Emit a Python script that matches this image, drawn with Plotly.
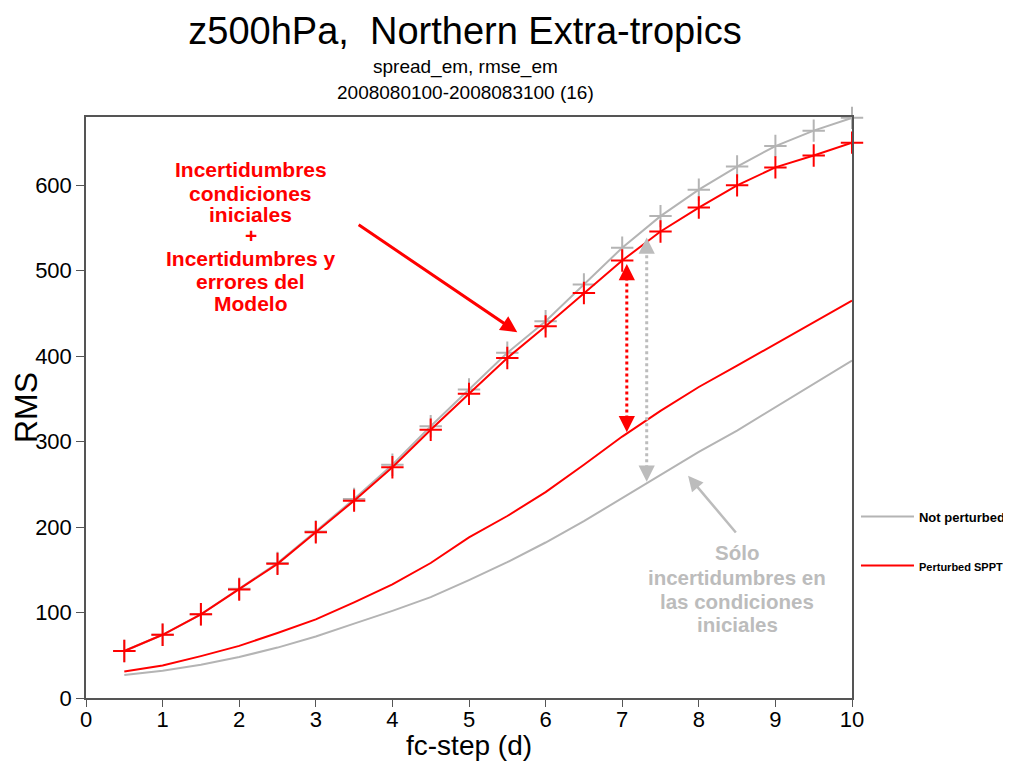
import plotly.graph_objects as go

# ---------------- data ----------------
steps = [0.5, 1, 1.5, 2, 2.5, 3, 3.5, 4, 4.5, 5, 5.5, 6, 6.5, 7, 7.5, 8, 8.5, 9, 9.5, 10]
rmse_not = [55, 74, 98, 128, 158, 195, 233, 273, 318, 361, 404, 441, 484, 527, 564, 595, 622, 646, 664, 679]
rmse_sppt = [55, 74, 98, 127, 157, 194, 231, 270, 314, 356, 398, 435, 474, 512, 546, 574, 600, 621, 635, 650]
spread_not = [27, 32, 39, 48, 59, 72, 87, 102, 118, 138, 159, 182, 207, 234, 260, 288, 313, 340, 367, 395]
spread_sppt = [31, 38, 49, 61, 76, 92, 112, 133, 158, 188, 213, 241, 273, 306, 336, 364, 389, 414, 440, 465]

x_ticks = [0, 1, 2, 3, 4, 5, 6, 7, 8, 9, 10]
y_ticks = [0, 100, 200, 300, 400, 500, 600]

legend_names = ["<b>Not perturbed</b>", "<b><span style='font-size:11px'>Perturbed SPPT</span></b>"]
red_text = ["Incertidumbres", "condiciones", "iniciales", "+", "Incertidumbres y", "errores del", "Modelo"]
red_text_y = [618, 591, 566, 541, 514, 488, 462]
gray_text = ["Sólo", "incertidumbres en", "las condiciones", "iniciales"]
gray_text_y = [170, 141, 113, 86]

RED = "#ff0000"
GRAY = "#b4b4b4"
TGRAY = "#bcbcbc"
FONT = "Liberation Sans, Arial, sans-serif"

fig = go.Figure()
fig.add_trace(go.Scatter(x=steps, y=spread_not, mode="lines", line=dict(color=GRAY, width=2),
                         name=legend_names[0], legendgroup="g1", cliponaxis=False))
fig.add_trace(go.Scatter(x=steps, y=rmse_not, mode="lines+markers", line=dict(color=GRAY, width=2),
                         marker=dict(symbol="cross-thin", size=16, color=GRAY, line=dict(width=2, color=GRAY)),
                         showlegend=False, cliponaxis=False))
fig.add_trace(go.Scatter(x=steps, y=spread_sppt, mode="lines", line=dict(color=RED, width=2),
                         name=legend_names[1], legendgroup="g2", cliponaxis=False))
fig.add_trace(go.Scatter(x=steps, y=rmse_sppt, mode="lines+markers", line=dict(color=RED, width=2),
                         marker=dict(symbol="cross-thin", size=16, color=RED, line=dict(width=2, color=RED)),
                         showlegend=False, cliponaxis=False))

annotations = []
# subtitles
annotations.append(dict(text="spread_em, rmse_em", xref="paper", yref="paper", x=0.496, y=1.086,
                        showarrow=False, font=dict(family=FONT, size=19, color="#000000"),
                        xanchor="center", yanchor="middle"))
annotations.append(dict(text="2008080100-2008083100 (16)", xref="paper", yref="paper", x=0.496, y=1.043,
                        showarrow=False, font=dict(family=FONT, size=19, color="#000000"),
                        xanchor="center", yanchor="middle"))
# x axis title
annotations.append(dict(text="fc-step (d)", xref="paper", yref="paper", x=0.5, y=-0.082,
                        showarrow=False, font=dict(family=FONT, size=28, color="#000000"),
                        xanchor="center", yanchor="middle"))
# red explanatory text
for t, yy in zip(red_text, red_text_y):
    annotations.append(dict(text="<b>" + t + "</b>", x=2.15, y=yy, xref="x", yref="y", showarrow=False,
                            font=dict(family=FONT, size=21, color=RED), xanchor="center", yanchor="middle"))
# gray explanatory text
for t, yy in zip(gray_text, gray_text_y):
    annotations.append(dict(text="<b>" + t + "</b>", x=8.5, y=yy, xref="x", yref="y", showarrow=False,
                            font=dict(family=FONT, size=20.5, color=TGRAY), xanchor="center", yanchor="middle"))
# red arrow
annotations.append(dict(text="", x=5.63, y=428, ax=3.54, ay=555, xref="x", yref="y", axref="x", ayref="y",
                        showarrow=True, arrowhead=2, arrowsize=1.1, arrowwidth=3, arrowcolor=RED))
# gray arrow
annotations.append(dict(text="", x=7.86, y=260, ax=8.5, ay=192, xref="x", yref="y", axref="x", ayref="y",
                        showarrow=True, arrowhead=2, arrowsize=1.2, arrowwidth=2.5, arrowcolor=TGRAY))
# dotted double arrows: heads
for xx, ylo, yhi, col in [(7.06, 311, 508, RED), (7.32, 253, 539, TGRAY)]:
    annotations.append(dict(text="", x=xx, y=ylo, ax=0, ay=-14, xref="x", yref="y",
                            showarrow=True, arrowhead=2, arrowsize=1.3, arrowwidth=2.5, arrowcolor=col))
    annotations.append(dict(text="", x=xx, y=yhi, ax=0, ay=14, xref="x", yref="y",
                            showarrow=True, arrowhead=2, arrowsize=1.3, arrowwidth=2.5, arrowcolor=col))

shapes = [
    dict(type="line", x0=7.06, x1=7.06, y0=320, y1=500, xref="x", yref="y",
         line=dict(color=RED, width=3, dash="dot")),
    dict(type="line", x0=7.32, x1=7.32, y0=262, y1=530, xref="x", yref="y",
         line=dict(color=TGRAY, width=3, dash="dot")),
]

# the page body adds an 8px margin, so the figure is 8px smaller on each side
fig.update_layout(
    width=1003, height=754,
    margin=dict(l=78, r=159, t=109, b=64, autoexpand=False),
    paper_bgcolor="white", plot_bgcolor="white",
    font=dict(family=FONT, color="#000000"),
    title=dict(text="z500hPa,&nbsp; Northern Extra-tropics", x=0.4556, xanchor="center",
               y=1 - 23 / 754, yanchor="middle", yref="container",
               font=dict(family=FONT, size=38, color="#000000")),
    xaxis=dict(range=[0, 10], tickmode="array", tickvals=x_ticks, ticktext=[str(v) for v in x_ticks],
               ticks="outside", ticklen=7, tickwidth=1, tickcolor="#555555",
               showline=True, linecolor="#555555", linewidth=1.5, mirror=True,
               showgrid=False, zeroline=False, automargin=False, ticklabelstandoff=-6,
               tickfont=dict(family=FONT, size=22, color="#000000")),
    yaxis=dict(range=[0, 680], tickmode="array", tickvals=y_ticks, ticktext=[str(v) for v in y_ticks],
               ticks="outside", ticklen=8, tickwidth=1, tickcolor="#555555",
               showline=True, linecolor="#555555", linewidth=1.5, mirror=True,
               showgrid=False, zeroline=False, automargin=False,
               tickfont=dict(family=FONT, size=22, color="#000000"),
               title=dict(text="RMS", standoff=6, font=dict(family=FONT, size=32, color="#000000"))),
    showlegend=True,
    legend=dict(x=1.0052, xanchor="left", y=0.338, yanchor="top", bgcolor="rgba(0,0,0,0)",
                font=dict(family=FONT, size=13, color="#000000"), itemwidth=53,
                tracegroupgap=29, traceorder="grouped"),
    annotations=annotations,
    shapes=shapes,
)

fig.write_html("out.html")
